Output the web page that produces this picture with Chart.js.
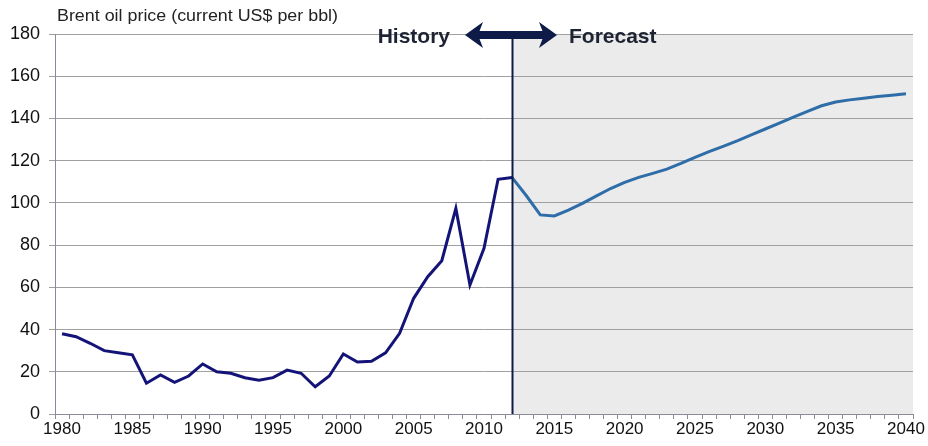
<!DOCTYPE html>
<html>
<head>
<meta charset="utf-8">
<script src="https://cdn.jsdelivr.net/npm/chart.js@4.4.1/dist/chart.umd.min.js"></script>
<style>
    html, body { margin: 0; padding: 0; background: #fff; }
    #wrap { width: 928px; height: 446px; position: relative; }
</style>
</head>
<body>
<div id="wrap"><canvas id="oilChart"></canvas></div>
<script>
var years = [
    '1980','1981','1982','1983','1984','1985','1986','1987','1988','1989',
    '1990','1991','1992','1993','1994','1995','1996','1997','1998','1999',
    '2000','2001','2002','2003','2004','2005','2006','2007','2008','2009',
    '2010','2011','2012','2013','2014','2015','2016','2017','2018','2019',
    '2020','2021','2022','2023','2024','2025','2026','2027','2028','2029',
    '2030','2031','2032','2033','2034','2035','2036','2037','2038','2039','2040'
];

// history 1980-2012
var historyPrice = [
    38, 36.6, 33.5, 30, 29, 28, 14.6, 18.5, 15, 18,
    23.7, 20, 19.3, 17.2, 16, 17.2, 20.8, 19.3, 12.9, 18,
    28.4, 24.6, 25, 29, 38.2, 54.8, 65, 72.6, 97.4, 61.1,
    78.5, 111.2, 112
];

// forecast 2012-2040
var forecastPrice = [
    112, 103.5, 94.3, 93.8, 96.6, 99.8, 103.3, 106.8, 109.7, 112.1,
    114, 116, 118.7, 121.6, 124.3, 126.8, 129.4, 132.2, 135, 137.8,
    140.6, 143.4, 146, 147.8, 148.8, 149.6, 150.4, 151, 151.7
];

var yTicks = [0, 20, 40, 60, 80, 100, 120, 140, 160, 180];
var splitYear = '2012';

var historyData = years.map(function(y, i) {
    return i < historyPrice.length ? historyPrice[i] : null;
});
var forecastStart = years.indexOf(splitYear);
var forecastData = years.map(function(y, i) {
    return i >= forecastStart ? forecastPrice[i - forecastStart] : null;
});

var navy = '#0e1a47';
var fontFam = '"Liberation Sans", Arial, sans-serif';

var overlay = {
    id: 'overlay',
    beforeDraw: function(chart) {
        var ctx = chart.ctx, a = chart.chartArea;
        var xs = chart.scales.x.getPixelForValue(forecastStart);
        ctx.save();
        ctx.fillStyle = '#ebebeb';
        ctx.fillRect(xs, a.top, a.right - xs, a.bottom - a.top);
        ctx.restore();
    },
    afterDraw: function(chart) {
        var ctx = chart.ctx, a = chart.chartArea;
        var xs = Math.round(chart.scales.x.getPixelForValue(forecastStart)) + 0.5;
        ctx.save();
        // divider
        ctx.strokeStyle = navy;
        ctx.lineWidth = 2;
        ctx.beginPath();
        ctx.moveTo(xs, 36);
        ctx.lineTo(xs, a.bottom);
        ctx.stroke();

        // double arrow
        var cy = 35, lt = 465, rt = 557;
        ctx.fillStyle = navy;
        ctx.fillRect(lt + 12, cy - 4, rt - lt - 24, 8);
        ctx.beginPath();
        ctx.moveTo(lt, cy);
        ctx.lineTo(lt + 18, cy - 13);
        ctx.lineTo(lt + 13, cy);
        ctx.lineTo(lt + 18, cy + 13);
        ctx.closePath();
        ctx.fill();
        ctx.beginPath();
        ctx.moveTo(rt, cy);
        ctx.lineTo(rt - 18, cy - 13);
        ctx.lineTo(rt - 13, cy);
        ctx.lineTo(rt - 18, cy + 13);
        ctx.closePath();
        ctx.fill();

        ctx.font = 'bold 21px ' + fontFam;
        ctx.fillStyle = '#1d2333';
        ctx.textBaseline = 'middle';
        ctx.textAlign = 'right';
        ctx.fillText('History', 450, 37);
        ctx.textAlign = 'left';
        ctx.fillText('Forecast', 569, 37);

        // axis caption, stretched a little wider like the source
        var caption = 'Brent oil price (current US$ per bbl)';
        ctx.font = '16px ' + fontFam;
        ctx.fillStyle = '#222';
        var w = ctx.measureText(caption).width;
        ctx.translate(57, 17);
        ctx.scale(281 / w, 1);
        ctx.fillText(caption, 0, 0);
        ctx.restore();
    }
};

var ctx = document.getElementById('oilChart').getContext('2d');
var oilChart = new Chart(ctx, {
    type: 'line',
    data: {
        labels: years,
        datasets: [{
            data: historyData,
            borderColor: '#141478',
            borderWidth: 3,
            pointRadius: 0,
            tension: 0,
            spanGaps: false
        }, {
            data: forecastData,
            borderColor: '#2e6da8',
            borderWidth: 3,
            pointRadius: 0,
            tension: 0,
            spanGaps: false
        }]
    },
    options: {
        responsive: true,
        maintainAspectRatio: false,
        animation: false,
        layout: { padding: { top: 34, right: 15, left: 0, bottom: 0 } },
        plugins: {
            legend: { display: false },
            tooltip: { enabled: false }
        },
        scales: {
            x: {
                offset: true,
                grid: {
                    offset: true,
                    drawOnChartArea: false,
                    drawTicks: true,
                    tickLength: 5,
                    color: '#8a8a9a'
                },
                border: { color: '#8a8a9a', width: 1 },
                ticks: {
                    autoSkip: false,
                    maxRotation: 0,
                    padding: 0,
                    color: '#111',
                    font: { family: fontFam, size: 17 },
                    callback: function(v, i) {
                        var y = years[i];
                        return (+y) % 5 === 0 ? y : '';
                    }
                },
                afterFit: function(scale) { scale.height = 32; }
            },
            y: {
                min: 0,
                max: 180,
                afterBuildTicks: function(scale) {
                    scale.ticks = yTicks.map(function(v) { return { value: v }; });
                },
                grid: {
                    color: '#a0a0a0',
                    tickLength: 6,
                    drawTicks: true
                },
                border: { color: '#8a8a9a', width: 1 },
                ticks: {
                    padding: 9,
                    color: '#111',
                    font: { family: fontFam, size: 18 }
                },
                afterFit: function(scale) { scale.width = 55; }
            }
        }
    },
    plugins: [overlay]
});
</script>
</body>
</html>
